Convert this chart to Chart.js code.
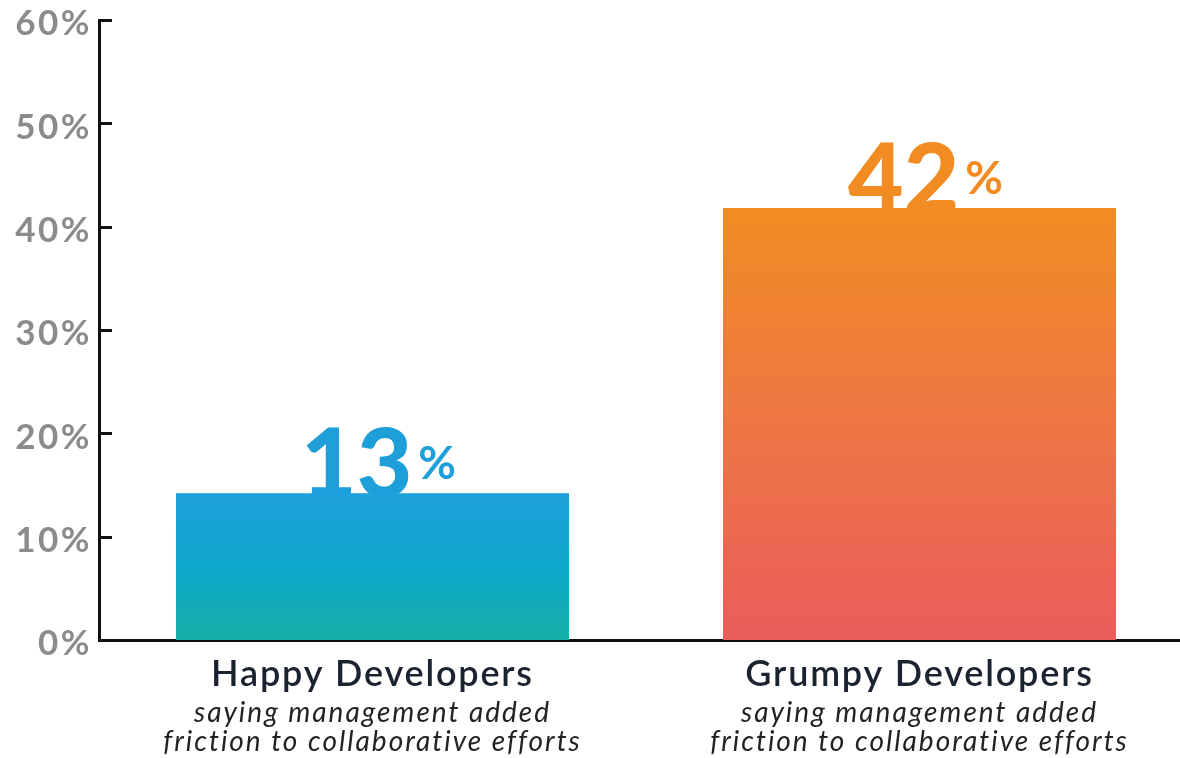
<!DOCTYPE html>
<html>
<head>
<meta charset="utf-8">
<script src="https://cdn.jsdelivr.net/npm/chart.js@4/dist/chart.umd.min.js"></script>
<style>
  html, body { margin: 0; padding: 0; background: #fff; overflow: hidden; }
  #wrap { width: 1196px; height: 758px; position: relative; }
</style>
</head>
<body>
<div id="wrap"><canvas id="c"></canvas></div>
<script>
const categories = ["Happy Developers", "Grumpy Developers"];
const subtitleLine1 = ["saying management added", "saying management added"];
const subtitleLine2 = ["friction to collaborative efforts", "friction to collaborative efforts"];
const values = [14.2, 41.8];
const valueLabels = ["13", "42"];
const labelColors = ["#1e9fda", "#f28c22"];
const gradientStops = [
  ["#1ea0dc", "#0ea6ca", "#13b1a8"],
  ["#f28c22", "#ee7644", "#ea5c5a"]
];
const yMin = 0, yMax = 60, yStep = 10;

const FONT = "Lato, 'Open Sans', sans-serif";

const valueLabelPlugin = {
  id: 'valueLabels',
  beforeDraw(chart) {
    chart.ctx.letterSpacing = "2.5px";
  },
  beforeDatasetsDraw(chart) {
    const ctx = chart.ctx;
    ctx.letterSpacing = "0px";
    const meta = chart.getDatasetMeta(0);
    ctx.save();
    meta.data.forEach((bar, i) => {
      const bigFont = "900 96px " + FONT;
      const smallFont = "700 46px " + FONT;
      ctx.font = bigFont;
      const wBig = ctx.measureText(valueLabels[i]).width;
      ctx.font = smallFont;
      const wSmall = ctx.measureText("%").width;
      const gap = 6;
      const total = wBig + gap + wSmall;
      const x0 = bar.x - total / 2 + 6;
      const base = bar.y + 4;
      ctx.fillStyle = labelColors[i];
      ctx.textBaseline = 'alphabetic';
      ctx.textAlign = 'left';
      ctx.font = bigFont;
      ctx.fillText(valueLabels[i], x0, base);
      ctx.font = smallFont;
      ctx.fillText("%", x0 + wBig + gap, base - 18);
    });
    ctx.restore();
  },
  afterDraw(chart) {
    const ctx = chart.ctx;
    const y = chart.scales.y;
    const x = chart.scales.x;
    const area = chart.chartArea;
    ctx.save();
    ctx.strokeStyle = "#111";
    ctx.lineWidth = 3;
    y.ticks.forEach(t => {
      if (t.value === yMin) return;
      const py = Math.round(y.getPixelForValue(t.value)) + 0.5;
      ctx.beginPath();
      ctx.moveTo(area.left - 1, py);
      ctx.lineTo(area.left + 13, py);
      ctx.stroke();
    });
    categories.forEach((c, i) => {
      const px = x.getPixelForValue(i);
      ctx.textAlign = 'center';
      ctx.textBaseline = 'alphabetic';
      ctx.fillStyle = "#1b2230";
      ctx.font = "600 36px " + FONT;
      ctx.letterSpacing = "1.8px";
      ctx.fillText(c, px, 686);
      ctx.fillStyle = "#222";
      ctx.font = "italic 400 28px " + FONT;
      ctx.letterSpacing = "2px";
      ctx.fillText(subtitleLine1[i], px, 722);
      ctx.fillText(subtitleLine2[i], px, 751);
    });
    ctx.restore();
    ctx.letterSpacing = "0px";
  }
};

new Chart(document.getElementById('c'), {
  type: 'bar',
  data: {
    labels: categories,
    datasets: [{
      data: values,
      backgroundColor: (context) => {
        const chart = context.chart;
        const { chartArea, scales } = chart;
        if (!chartArea) return gradientStops[context.dataIndex][0];
        const top = scales.y.getPixelForValue(values[context.dataIndex]);
        const bottom = scales.y.getPixelForValue(0);
        const g = chart.ctx.createLinearGradient(0, top, 0, bottom);
        const s = gradientStops[context.dataIndex];
        g.addColorStop(0, s[0]);
        g.addColorStop(0.5, s[1]);
        g.addColorStop(1, s[2]);
        return g;
      },
      borderWidth: 0,
      barPercentage: 0.7185,
      categoryPercentage: 1.0
    }]
  },
  options: {
    responsive: true,
    maintainAspectRatio: false,
    animation: false,
    layout: { padding: { top: 20, right: 3, left: 0, bottom: 0 } },
    plugins: { legend: { display: false }, tooltip: { enabled: false } },
    scales: {
      x: {
        grid: { display: false, drawTicks: false },
        border: { display: true, color: "#111", width: 3 },
        ticks: { display: false },
        afterFit(scale) { scale.height = 118; }
      },
      y: {
        min: yMin, max: yMax,
        grid: { display: false, drawTicks: false },
        border: { display: true, color: "#111", width: 3 },
        ticks: {
          stepSize: yStep,
          color: "#8b8b8d",
          padding: 7,
          labelOffset: 4,
          font: { family: FONT, size: 35, weight: '700', lineHeight: 0.6 },
          callback: (v) => v + "%"
        },
        afterFit(scale) { scale.width = 99; }
      }
    }
  },
  plugins: [valueLabelPlugin]
});
</script>
</body>
</html>
